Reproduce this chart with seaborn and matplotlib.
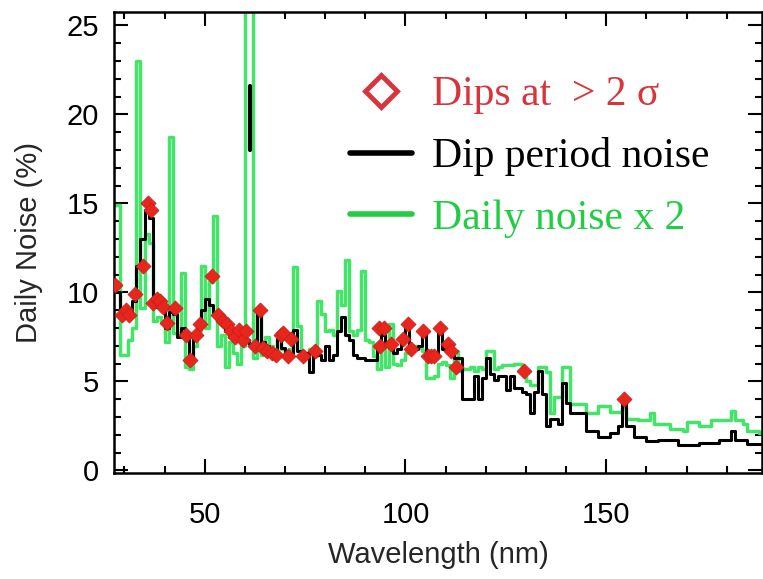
import numpy as np
import pandas as pd
import matplotlib
matplotlib.use("Agg")
import matplotlib.pyplot as plt
import seaborn as sns
from matplotlib.lines import Line2D
from matplotlib.ticker import MultipleLocator

# ---- data (1-nm bins, lower edges 27 ... 189 nm) ----
bin_edges = list(range(27, 191))

daily_noise_x2 = [
    14.9, 14.9, 6.5, 6.5, 7.3, 8.0, 23.0, 9.1, 13.3, 12.8,
    8.4, 8.6, 8.4, 7.2, 18.7, 7.7, 7.7, 11.1, 5.8, 5.7,
    7.0, 7.8, 11.5, 8.0, 10.6, 14.3, 7.0, 7.6, 5.8, 7.2,
    6.6, 6.0, 7.0, 27.0, 27.0, 6.3, 8.8, 6.5, 7.5, 7.0,
    6.4, 7.4, 6.8, 6.4, 6.8, 11.4, 8.1, 6.6, 6.5, 6.8,
    6.4, 9.5, 8.8, 7.8, 7.9, 7.6, 10.1, 9.3, 11.8, 7.8,
    7.6, 7.9, 11.2, 7.3, 7.2, 6.4, 5.7, 6.8, 5.8, 8.2,
    6.0, 5.9, 6.2, 6.6, 6.8, 7.0, 6.9, 6.7, 5.2, 5.2,
    5.3, 6.0, 6.1, 5.9, 5.2, 6.7, 5.6, 5.7, 5.7, 5.8,
    5.6, 5.8, 5.7, 6.7, 6.7, 5.7, 5.8, 5.9, 5.9, 5.9,
    6.0, 6.0, 5.5, 5.0, 4.8, 4.8, 5.8, 5.8, 5.5, 3.2,
    4.1, 4.1, 5.8, 5.8, 3.7, 3.7, 3.7, 3.7, 3.2, 3.2,
    3.2, 3.6, 3.6, 3.6, 3.3, 3.3, 3.3, 3.5, 2.9, 2.9,
    2.9, 2.8, 2.8, 2.8, 3.2, 2.6, 2.6, 2.6, 2.6, 2.3,
    2.3, 2.3, 2.2, 2.7, 2.7, 2.7, 2.5, 2.5, 2.5, 2.8,
    2.8, 2.8, 2.8, 2.8, 3.35, 2.8, 2.8, 2.6, 2.2, 2.2,
    2.2, 2.1, 2.0,
]

dip_period_noise = [
    10.3, 10.0, 8.6, 8.7, 8.8, 9.5, 11.5, 13.0, 14.6, 14.2,
    9.2, 9.4, 9.3, 8.0, 8.9, 8.8, 7.5, 8.0, 7.6, 6.3,
    7.6, 8.2, 9.0, 9.6, 9.3, 8.8, 8.5, 8.6, 7.8, 7.5,
    7.3, 7.6, 7.2, 7.3, 7.1, 7.1, 8.9, 7.2, 7.0, 6.8,
    6.6, 7.4, 6.9, 6.4, 6.6, 7.9, 6.7, 6.5, 6.6, 5.5,
    6.5, 6.5, 6.2, 7.0, 6.2, 6.5, 7.8, 8.6, 7.6, 7.3,
    6.5, 6.3, 6.3, 6.2, 6.2, 6.2, 7.0, 7.6, 7.0, 7.1,
    6.6, 6.8, 7.3, 8.0, 6.9, 6.8, 7.0, 7.7, 6.5, 6.4,
    6.5, 7.9, 6.8, 6.9, 6.6, 6.3, 6.3, 4.0, 4.0, 4.0,
    5.3, 4.0, 5.2, 6.3, 5.4, 5.1, 5.3, 5.3, 4.5, 5.3,
    4.6, 4.6, 4.4, 4.3, 3.2, 4.4, 5.6, 4.3, 2.5, 2.9,
    2.9, 2.6, 4.9, 3.8, 3.2, 3.2, 3.2, 3.2, 2.2, 2.2,
    2.2, 1.9, 1.9, 1.9, 2.1, 2.1, 2.5, 4.1, 2.5, 2.5,
    1.9, 1.9, 1.9, 1.65, 1.65, 1.65, 1.7, 1.7, 1.7, 1.7,
    1.7, 1.4, 1.4, 1.4, 1.4, 1.4, 1.55, 1.55, 1.55, 1.55,
    1.55, 1.7, 1.7, 1.7, 2.2, 1.7, 1.7, 1.7, 1.5, 1.5,
    1.5, 1.5, 2.1,
]

# isolated high dip-period value range inside the 61 nm bin
spike_wavelength = [61.2, 61.2]
spike_value = [18.0, 21.6]

dip_wavelength = [
    27.6, 29.5, 30.4, 31.2, 32.6, 34.7, 35.9, 36.7, 37.2, 38.0,
    38.8, 39.6, 40.5, 42.5, 45.4, 46.3, 47.9, 48.8, 51.7, 53.3,
    54.6, 55.6, 56.6, 57.6, 58.6, 59.6, 60.4, 62.4, 63.7, 64.6,
    65.6, 66.8, 67.8, 68.9, 69.5, 70.7, 71.6, 74.5, 77.4, 93.5,
    94.7, 93.6, 96.4, 99.3, 100.6, 101.4, 104.3, 105.6, 106.4, 107.2,
    108.5, 110.5, 111.4, 112.6, 129.6, 154.5,
]
dip_value = [
    10.4, 8.7, 9.0, 8.7, 9.9, 11.5, 15.0, 14.6, 9.4, 9.6,
    9.5, 9.2, 8.3, 9.1, 7.6, 6.2, 7.6, 8.2, 10.9, 8.7,
    8.4, 8.2, 7.8, 7.5, 7.9, 7.3, 7.8, 7.0, 9.0, 6.9,
    6.7, 6.6, 6.5, 7.6, 7.7, 6.4, 7.4, 6.4, 6.7, 8.0,
    8.0, 7.0, 7.1, 7.4, 8.2, 6.8, 7.8, 6.4, 6.4, 6.4,
    8.0, 7.1, 6.7, 5.8, 5.6, 4.0,
]

legend_labels = ["Dips at  > 2 σ", "Dip period noise", "Daily noise x 2"]

# ---- figure ----
sns.set_style("ticks")
plt.rcParams["font.family"] = ["Liberation Sans", "DejaVu Sans"]

W, H = 763, 579
fig = plt.figure(figsize=(W / 100, H / 100), dpi=100)
ax = fig.add_axes([114 / W, 1 - 473 / H, (762 - 114) / W, (473 - 12) / H])

df = pd.DataFrame({
    "wl": bin_edges,
    "green": daily_noise_x2 + [daily_noise_x2[-1]],
    "black": dip_period_noise + [dip_period_noise[-1]],
})
dips = pd.DataFrame({"wl": dip_wavelength, "val": dip_value})
spike = pd.DataFrame({"wl": spike_wavelength, "val": spike_value})

sns.lineplot(data=df, x="wl", y="green", ax=ax, drawstyle="steps-post",
             color="#44e46a", lw=2.5, estimator=None, zorder=2)
sns.lineplot(data=df, x="wl", y="black", ax=ax, drawstyle="steps-post",
             color="black", lw=2.2, estimator=None, zorder=3)
sns.lineplot(data=spike, x="wl", y="val", ax=ax, color="black", lw=3.0,
             estimator=None, sort=False, zorder=3)
sns.scatterplot(data=dips, x="wl", y="val", ax=ax, marker="D", s=58,
                color="#e8261c", edgecolor="#cc1f1f", linewidth=0.6, zorder=4)

ax.set_xlim(27.4, 188.8)
ax.set_ylim(-0.15, 25.75)
ax.xaxis.set_major_locator(MultipleLocator(50))
ax.xaxis.set_minor_locator(MultipleLocator(10))
ax.yaxis.set_major_locator(MultipleLocator(5))
ax.yaxis.set_minor_locator(MultipleLocator(1))
ax.tick_params(which="both", direction="in", top=True, right=True,
               width=1.5, colors="black", labelsize=21)
ax.tick_params(axis="x", which="both", pad=20)
ax.tick_params(axis="y", which="both", pad=11)
ax.tick_params(which="major", length=10)
ax.tick_params(which="minor", length=5)
for sp in ax.spines.values():
    sp.set_linewidth(1.8)
    sp.set_color("black")

ax.set_xlabel("Wavelength (nm)", fontsize=21, labelpad=9)
ax.set_ylabel("Daily Noise (%)", fontsize=21, labelpad=17)

handles = [
    Line2D([], [], marker="D", linestyle="none", markerfacecolor="none",
           markeredgecolor="#d9343d", markeredgewidth=3.5, markersize=16),
    Line2D([], [], color="black", lw=4),
    Line2D([], [], color="#22cc44", lw=4),
]
ax.legend(handles, legend_labels, loc="upper left",
          bbox_to_anchor=(350 / W, 1 - 76 / H), bbox_transform=fig.transFigure,
          frameon=False, prop={"family": "Liberation Serif", "size": 30},
          handlelength=1.49, handletextpad=0.48, labelspacing=0.55,
          borderpad=0, borderaxespad=0,
          labelcolor=["#d8343c", "black", "#22cc44"])

fig.savefig("out.png", dpi=100)
